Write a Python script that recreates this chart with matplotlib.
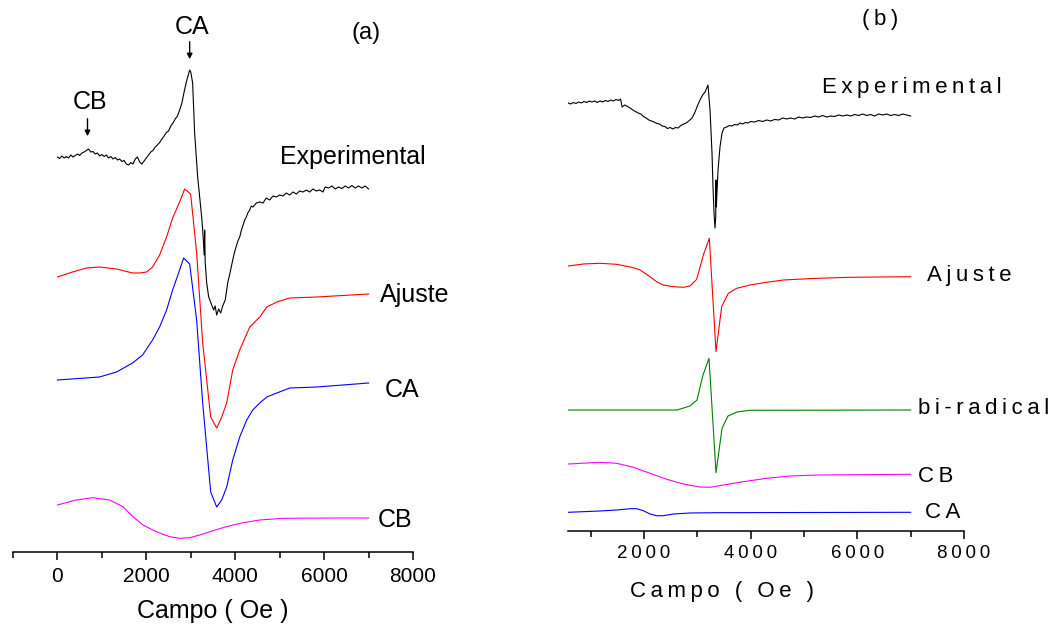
import matplotlib
matplotlib.use("Agg")
import matplotlib.pyplot as plt
from matplotlib.ticker import MultipleLocator, FuncFormatter

plt.rcParams['font.family'] = ['Liberation Sans', 'DejaVu Sans']

# ---- panel (a): field (Oe) and stacked intensities (a.u.) ----
a_exp_x = [0, 50, 100, 150, 200, 250, 300, 350, 400, 450, 500, 550, 600, 650, 700, 750,
           800, 850, 900, 950, 1000, 1050, 1100, 1150, 1200, 1250, 1300, 1350, 1400, 1450,
           1500, 1550, 1600, 1650, 1700, 1750, 1800, 1850, 1900, 1950, 2000, 2050, 2100,
           2150, 2200, 2250, 2300, 2350, 2400, 2450, 2500, 2550, 2600, 2650, 2700, 2750,
           2800, 2850, 2900, 2950, 2975, 3000, 3042, 3087, 3155, 3245, 3279, 3301, 3313,
           3324, 3358, 3403, 3470, 3515, 3549, 3583, 3628, 3673, 3718, 3775, 3831, 3887,
           3944, 3980, 4011, 4060, 4101, 4140, 4169, 4214, 4250, 4282, 4327, 4360, 4400,
           4475, 4550, 4625, 4700, 4775, 4850, 4925, 5000, 5075, 5150, 5225, 5300, 5375,
           5450, 5525, 5600, 5675, 5750, 5825, 5900, 5975, 6025, 6100, 6175, 6250, 6325,
           6400, 6475, 6550, 6625, 6700, 6775, 6850, 6925, 7000]
a_exp_y = [395, 393.5, 396, 394, 395.5, 394, 397, 395, 396.5, 398, 396.5, 399, 400, 401.5,
           403, 400, 400.5, 398, 399, 396, 397.5, 395.5, 397, 394, 395.5, 393, 394.5, 392,
           393, 390.5, 391.5, 388, 387, 389.5, 388, 393, 395, 390, 388, 391, 394, 397, 400,
           401.5, 405, 407, 409.5, 413, 416, 419.5, 421, 426, 429, 433, 436, 442,
           449, 460, 470, 478, 482, 480, 469, 419, 375, 335, 315, 297, 322,
           290, 269, 255, 247, 242, 246, 237, 243, 239, 246, 252, 269, 280,
           292, 299, 304, 311, 315, 322, 326, 332, 335, 339, 342, 346, 345,
           349, 350, 349, 354, 352, 356, 355, 357, 356, 359, 357, 360, 358,
           361, 360, 362, 360, 363, 361, 362, 360, 365, 364, 366, 363, 365,
           363.5, 366, 364, 366.5, 364, 366, 364, 366, 363]

a_fit_x = [0, 338, 654, 946, 1330, 1690, 1848, 2006, 2141, 2299, 2456, 2592, 2749, 2862,
           2997, 3132, 3268, 3448, 3583, 3696, 3808, 3944, 4101, 4327, 4552, 4710, 4935,
           5228, 5837, 7000]
a_fit_y = [275, 280, 284, 285, 283, 279, 279, 280, 285, 297, 315, 334, 350, 363,
           358, 299, 209, 135, 124, 135, 149, 182, 202, 225, 235, 245, 250,
           254, 255, 258]

a_ca_x = [0, 946, 1330, 1690, 1915, 2141, 2299, 2456, 2592, 2749, 2839, 2975, 3132, 3268,
          3448, 3583, 3696, 3808, 3944, 4101, 4259, 4394, 4552, 4710, 4935, 5228, 5837, 7000]
a_ca_y = [172, 175, 180, 189, 197, 212, 225, 242, 262, 282, 294, 288, 232, 149,
          60, 45, 52, 65, 92, 115, 132, 142, 149, 155, 159, 164, 165, 169]

a_cb_x = [0, 421, 796, 1172, 1472, 1698, 1923, 2224, 2524, 2749, 2975, 3200, 3500, 3801,
          4176, 4552, 5078, 6205, 7000]
a_cb_y = [47, 52, 54.3, 52, 45.3, 35.3, 27, 20.3, 15.3, 13.7, 14.3, 17, 21.3, 25.3,
          29.3, 32, 33.7, 34, 34]

# ---- panel (b) ----
b_exp_x = [575, 625, 675, 725, 775, 825, 875, 925, 975, 1025, 1075, 1125, 1175, 1225, 1275,
           1325, 1375, 1425, 1475, 1525, 1560, 1590, 1640, 1690, 1740, 1790, 1840, 1890,
           1940, 1990, 2040, 2090, 2140, 2190, 2240, 2290, 2340, 2390, 2440, 2490, 2540,
           2590, 2640, 2690, 2740, 2790, 2840, 2900, 2950, 3000, 3050, 3100, 3144, 3200,
           3238, 3275, 3294, 3313, 3331, 3345, 3350, 3356, 3388, 3425, 3463, 3500, 3550,
           3600, 3650, 3700, 3750, 3800, 3850, 3900, 3950, 4000, 4075, 4150, 4225, 4300,
           4375, 4450, 4525, 4600, 4675, 4750, 4825, 4900, 4975, 5050, 5125, 5200, 5275,
           5350, 5425, 5500, 5575, 5650, 5725, 5800, 5875, 5950, 6025, 6100, 6175, 6250,
           6325, 6400, 6475, 6550, 6625, 6700, 6775, 6850, 6925, 7000]
b_exp_y = [428, 427, 428.5, 427.5, 429, 428, 429.5, 428.5, 430, 429, 430, 428.5, 430, 429,
           430.5, 429.5, 431, 430, 431.5, 430.5, 432, 424, 426, 424.5, 423, 421, 419.5,
           418, 417, 414.5, 413, 411, 410, 409, 407.5, 407, 405, 404.5, 402.5, 403.5,
           402, 403.5, 403, 405.5, 407, 408, 410, 413, 418, 425, 431, 436, 439, 446,
           421, 378, 344, 318, 303, 314, 351, 324, 361, 384, 398, 403, 404,
           405.5, 405, 406.5, 406, 408, 407, 408.5, 408, 409.5, 409, 410.5, 409.5, 411,
           410, 411.5, 411, 413, 412, 413, 412, 414, 413, 414, 413.5, 415, 414,
           415.5, 414, 415, 414.5, 416, 415, 416, 415, 416.5, 415.5, 417, 415.5, 416.5,
           415, 417, 416, 417, 415.5, 416.5, 415.5, 417, 416, 415]

b_fit_x = [581, 862, 1175, 1488, 1800, 1925, 2113, 2238, 2363, 2550, 2738, 2863, 2988,
           3113, 3225, 3350, 3456, 3581, 3738, 3988, 4300, 4613, 5238, 5863, 7000]
b_fit_y = [265, 267, 267.7, 266.7, 263.3, 261, 254.3, 249.3, 246, 244.3, 243.7, 245,
           251.7, 276, 292.7, 179.3, 224.3, 237.7, 242.7, 246, 248.7, 251, 252.7, 253.7,
           254.3]

b_bi_x = [581, 2619, 2863, 2994, 3106, 3219, 3350, 3463, 3575, 3744, 3988, 7000]
b_bi_y = [121, 121, 125, 131, 156, 172.7, 58.3, 102.7, 115, 119, 120.7, 121]

b_cb_x = [581, 1175, 1488, 1800, 2113, 2425, 2738, 3050, 3238, 3488, 3863, 4300, 4738,
          5238, 7000]
b_cb_y = [67, 68.7, 67.7, 63.7, 57.7, 51.7, 47, 44, 43.7, 46, 49.3, 52.7, 55, 56, 56.7]

b_ca_x = [581, 1175, 1488, 1738, 1863, 1988, 2113, 2238, 2363, 2550, 2863, 3363, 7000]
b_ca_y = [18.7, 20, 21, 22.3, 22.3, 20.3, 17, 15.3, 15.3, 17, 18, 18.3, 18.7]


def spaced(s):
    return '\u2009'.join(s)


def style_axis(ax, xmin):
    for side in ['left', 'right', 'top']:
        ax.spines[side].set_visible(False)
    ax.spines['bottom'].set_linewidth(1.1)
    ax.set_yticks([])
    ax.set_xlim(xmin, 8000)
    ax.xaxis.set_major_locator(MultipleLocator(2000))
    ax.xaxis.set_minor_locator(MultipleLocator(1000))
    ax.tick_params(axis='x', which='major', length=6, width=1.1, direction='out')
    ax.tick_params(axis='x', which='minor', length=4, width=1.1, direction='out')
    ax.patch.set_alpha(0)


fig = plt.figure(figsize=(10.49, 6.25), dpi=100)

# panel (a)
ax1 = fig.add_axes([13 / 1049, 73 / 625, 400 / 1049, 552 / 625])
style_axis(ax1, -1000)
ax1.set_ylim(0, 552)
lw = 0.8
ax1.plot(a_exp_x, a_exp_y, color='black', lw=lw)
ax1.plot(a_fit_x, a_fit_y, color='red', lw=lw)
ax1.plot(a_ca_x, a_ca_y, color='blue', lw=lw)
ax1.plot(a_cb_x, a_cb_y, color='magenta', lw=lw)
ax1.tick_params(axis='x', labelsize=15, pad=5)
ax1.set_xlabel('Campo ( Oe )', fontsize=18, labelpad=9)

fs = 18
ax1.text(5003, 395, 'Experimental', fontsize=fs, va='center')
ax1.text(7256, 257, 'Ajuste', fontsize=fs, va='center')
ax1.text(7369, 162, 'CA', fontsize=fs, va='center')
ax1.text(7211, 32, 'CB', fontsize=fs, va='center')
ax1.text(6625, 519, '(a)', fontsize=17, va='center')
ax1.text(3020, 525, 'CA', fontsize=fs, va='center', ha='center')
ax1.text(744, 450, 'CB', fontsize=fs, va='center', ha='center')
ax1.annotate('', xy=(2975, 490), xytext=(2975, 513),
             arrowprops=dict(arrowstyle='-|>', color='black', lw=1, mutation_scale=8))
ax1.annotate('', xy=(676, 413), xytext=(676, 436),
             arrowprops=dict(arrowstyle='-|>', color='black', lw=1, mutation_scale=8))

# panel (b)
ax2 = fig.add_axes([568 / 1049, 94 / 625, 396 / 1049, 531 / 625])
style_axis(ax2, 575)
ax2.set_ylim(0, 531)
ax2.plot(b_exp_x, b_exp_y, color='black', lw=lw)
ax2.plot(b_fit_x, b_fit_y, color='red', lw=lw)
ax2.plot(b_bi_x, b_bi_y, color='green', lw=lw)
ax2.plot(b_cb_x, b_cb_y, color='magenta', lw=lw)
ax2.plot(b_ca_x, b_ca_y, color='blue', lw=lw)
ax2.xaxis.set_major_formatter(FuncFormatter(lambda v, p: spaced(f'{v:.0f}')))
ax2.tick_params(axis='x', labelsize=13.5, pad=4)
ax2.set_xlabel(spaced('Campo ( Oe )'), fontsize=16, labelpad=6)
ax2.xaxis.set_label_coords((722 - 568) / 396, -0.095)

fs2 = 16
ax2.text(5338, 443, spaced('Experimental'), fontsize=fs2, va='center')
ax2.text(7306, 255, spaced('Ajuste'), fontsize=fs2, va='center')
ax2.text(7138, 123, spaced('bi-radical'), fontsize=fs2, va='center')
ax2.text(7138, 55, spaced('CB'), fontsize=fs2, va='center')
ax2.text(7269, 19, spaced('CA'), fontsize=fs2, va='center')
ax2.text(6088, 511, spaced('(b)'), fontsize=fs2, va='center')

fig.savefig('out.png', dpi=100)
